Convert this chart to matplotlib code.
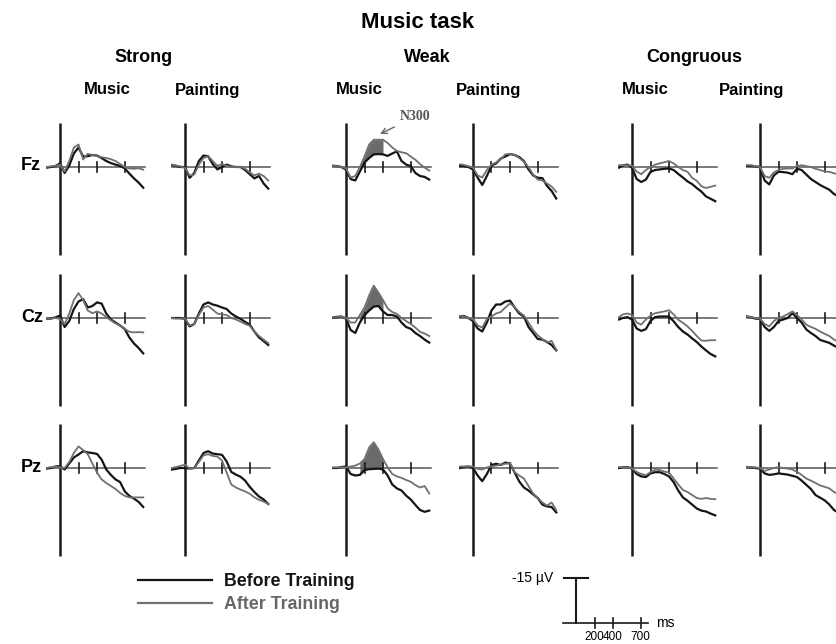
import matplotlib.pyplot as plt
import numpy as np

plt.rcParams['font.family'] = ['Liberation Sans', 'DejaVu Sans']

# time samples (ms) shared by all waveforms, amplitudes in microvolts (negative plotted up)
times = [-140, -100, -50, 0, 50, 100, 150, 200, 250, 300, 350,
         400, 450, 500, 550, 600, 650, 700, 750, 800, 850, 900]

electrodes = ['Fz', 'Cz', 'Pz']
conditions = ['Strong', 'Weak', 'Congruous']
groups = ['Music', 'Painting']

# Fz
fz_strong_music_before = [0.2, 0.0, -0.3, -1.2, 2.0, -0.5, -4.5, -6.5, -3.5, -3.6, -4.0, -3.8, -3.0, -2.0, -1.3, -0.8, -0.3, 0.4, 2.2, 3.8, 5.2, 6.9]
fz_strong_music_after = [0.0, -0.2, -0.4, -0.8, 1.5, -2.0, -6.5, -7.5, -2.5, -4.4, -4.0, -3.6, -3.3, -3.0, -2.6, -2.0, -1.0, 0.0, 0.5, 0.6, 0.4, 0.9]
fz_strong_painting_before = [-0.6, -0.4, 0.0, 0.0, 3.6, 2.0, -2.0, -3.8, -3.6, -1.0, 0.8, 0.0, -0.8, -0.2, 0.0, 0.0, 1.0, 2.4, 3.8, 3.0, 5.5, 7.2]
fz_strong_painting_after = [-0.8, -0.5, -0.2, 0.3, 2.8, 2.5, -0.8, -3.0, -3.6, -2.0, -0.4, -1.0, -0.4, 0.0, 0.0, 0.0, 0.6, 1.8, 2.8, 2.2, 3.0, 4.5]
fz_weak_music_before = [-0.4, -0.3, 0.0, 0.9, 4.0, 4.5, 1.5, -1.5, -3.0, -4.2, -4.3, -4.2, -3.7, -4.5, -5.2, -2.0, -0.8, -0.3, 2.0, 3.0, 3.3, 4.2]
fz_weak_music_after = [-0.4, -0.2, 0.0, 0.5, 3.5, 3.0, 0.0, -3.5, -7.5, -9.1, -9.1, -9.1, -8.0, -6.5, -5.4, -4.9, -4.6, -3.5, -2.4, -1.0, 0.2, 1.2]
fz_weak_painting_before = [-0.3, -0.3, 0.0, 0.8, 3.5, 6.0, 3.0, -0.5, -1.2, -2.8, -3.5, -4.3, -4.0, -3.3, -2.0, 0.8, 2.8, 3.6, 3.7, 6.3, 8.0, 10.5]
fz_weak_painting_after = [-0.9, -0.7, -0.3, 0.2, 2.8, 3.5, 1.0, -0.8, -1.5, -2.6, -4.2, -4.4, -4.0, -3.0, -1.8, 0.0, 2.5, 4.2, 4.5, 5.5, 6.5, 8.3]
fz_congruous_music_before = [0.2, -0.5, -0.8, 0.2, 4.0, 5.0, 4.2, 1.6, 1.0, 0.8, 0.6, 0.5, 1.0, 2.3, 3.5, 4.8, 5.7, 7.0, 8.2, 9.8, 10.6, 11.4]
fz_congruous_music_after = [-0.6, -0.6, -0.6, -0.4, 1.5, 2.4, 1.0, 0.0, -0.8, -1.2, -1.6, -2.0, -1.2, 0.0, 1.0, 1.6, 3.6, 4.6, 6.4, 7.0, 6.6, 6.2]
fz_congruous_painting_before = [-0.4, -0.4, -0.2, 0.0, 4.5, 5.8, 2.8, 1.6, 1.7, 1.9, 2.4, 0.6, 1.0, 2.5, 4.0, 5.0, 6.0, 6.8, 7.6, 9.0, 9.8, 10.5]
fz_congruous_painting_after = [-0.6, -0.6, -0.3, 0.0, 3.0, 3.6, 1.8, 1.0, 0.6, 0.5, 0.5, -0.3, -0.6, -0.3, 0.0, 0.6, 1.0, 1.5, 1.6, 2.1, 2.5, 3.0]

# Cz
cz_strong_music_before = [0.3, 0.2, -0.2, -0.8, 3.0, 1.0, -3.0, -5.5, -6.3, -3.5, -4.0, -5.2, -4.8, -1.5, 0.5, 1.5, 2.5, 3.7, 6.5, 8.5, 10.0, 11.8]
cz_strong_music_after = [0.3, 0.2, 0.0, 0.3, 2.0, -1.5, -6.0, -8.3, -6.0, -2.5, -1.6, -2.2, -1.5, -0.3, 0.8, 1.8, 2.5, 3.6, 4.6, 4.8, 4.7, 4.8]
cz_strong_painting_before = [0.0, 0.0, 0.0, 0.3, 2.8, 2.0, -1.5, -4.5, -5.2, -4.5, -4.1, -3.5, -3.0, -1.5, -0.5, 0.3, 1.3, 2.2, 4.5, 6.5, 7.7, 9.0]
cz_strong_painting_after = [0.0, 0.2, 0.2, 0.2, 2.5, 2.0, -1.0, -3.5, -4.0, -2.8, -1.5, -1.2, -1.0, 0.0, 0.5, 1.2, 2.0, 2.6, 4.5, 6.0, 7.2, 8.4]
cz_weak_music_before = [-0.2, -0.3, -0.5, 0.2, 4.0, 5.0, 1.5, -1.0, -2.5, -3.8, -4.0, -2.2, -1.0, -1.0, -0.5, 1.5, 3.0, 3.6, 5.0, 6.0, 7.2, 8.2]
cz_weak_music_after = [-0.3, -0.5, -0.4, 0.0, 1.5, 1.5, -1.0, -3.5, -7.5, -10.8, -8.5, -6.0, -3.2, -2.0, -1.4, 0.0, 1.0, 2.0, 3.2, 4.6, 5.2, 6.0]
cz_weak_painting_before = [-0.5, -0.7, 0.0, 1.0, 3.5, 4.5, 1.5, -2.5, -4.5, -4.5, -5.5, -5.8, -3.5, -1.5, -0.5, 3.0, 5.0, 7.0, 7.2, 8.0, 9.0, 10.8]
cz_weak_painting_after = [-0.7, -0.5, 0.0, 0.4, 2.5, 3.2, 0.3, -0.5, -1.5, -2.0, -3.5, -4.9, -3.6, -2.0, -0.8, 1.5, 4.0, 5.8, 7.0, 8.2, 7.6, 10.6]
cz_congruous_music_before = [0.5, 0.0, -0.3, 0.5, 3.5, 4.3, 3.7, 1.0, -0.3, -0.5, -0.5, -0.5, 1.1, 3.0, 4.5, 5.5, 6.8, 8.0, 9.5, 10.8, 12.0, 12.8]
cz_congruous_music_after = [-0.3, -1.2, -1.5, -1.0, 1.5, 2.2, 0.5, -0.8, -1.6, -1.9, -2.2, -2.6, -1.2, 0.6, 1.6, 2.8, 4.3, 6.0, 7.5, 7.6, 7.4, 7.4]
cz_congruous_painting_before = [-0.5, -0.3, 0.2, 0.3, 3.0, 4.3, 3.0, 1.0, 0.5, 0.0, -1.6, 0.0, 1.5, 3.8, 5.0, 6.0, 7.3, 7.8, 8.3, 9.2, 10.0, 10.8]
cz_congruous_painting_after = [-0.5, -0.3, 0.0, 0.2, 2.0, 2.8, 1.0, 0.0, -0.5, -1.3, -2.2, -1.0, 0.5, 2.2, 3.0, 3.6, 4.5, 5.3, 6.0, 7.2, 8.0, 8.8]

# Pz
pz_strong_music_before = [0.2, 0.0, -0.5, -0.6, 0.5, -1.5, -3.5, -4.5, -5.6, -5.2, -5.0, -4.7, -2.8, 0.5, 2.3, 3.8, 4.7, 7.8, 9.3, 10.2, 11.3, 13.0]
pz_strong_music_after = [0.0, -0.3, -0.4, -0.2, 0.0, -2.0, -5.0, -7.2, -6.0, -4.6, -1.5, 1.5, 3.8, 5.0, 6.0, 7.0, 8.3, 9.3, 9.8, 9.8, 9.8, 9.8]
pz_strong_painting_before = [0.5, 0.3, 0.0, 0.0, 0.2, 0.0, -2.5, -5.0, -5.6, -4.8, -4.6, -4.4, -2.2, 1.3, 2.2, 2.9, 4.2, 6.3, 8.0, 9.5, 10.5, 12.0]
pz_strong_painting_after = [0.0, -0.3, -0.7, -1.1, 0.2, 0.0, -2.0, -4.2, -4.6, -4.0, -3.8, -2.5, 1.5, 5.5, 6.5, 7.2, 7.8, 8.6, 9.8, 10.6, 11.2, 12.0]
pz_weak_music_before = [0.0, 0.0, -0.3, -0.5, 2.0, 2.5, 2.3, 0.7, 0.4, 0.3, 0.2, 0.5, 2.5, 5.5, 6.8, 7.5, 9.2, 10.5, 12.3, 14.0, 14.6, 14.2]
pz_weak_music_after = [-0.2, -0.2, -0.2, -0.2, -0.5, -0.8, -1.5, -3.0, -6.8, -8.6, -6.2, -3.0, -0.2, 2.0, 2.8, 3.3, 4.0, 4.6, 5.7, 6.5, 6.0, 8.5]
pz_weak_painting_before = [0.0, -0.3, -0.5, 0.0, 2.5, 4.4, 2.0, -1.0, -1.4, -1.0, -1.8, -1.5, 1.5, 4.5, 6.5, 7.5, 8.8, 10.0, 12.2, 12.8, 13.0, 14.8]
pz_weak_painting_after = [-0.5, -0.5, -0.5, -0.5, 0.3, 0.5, -0.2, -0.5, -0.8, -1.1, -1.4, -1.6, 1.4, 2.5, 3.5, 6.0, 8.5, 10.0, 11.5, 12.5, 11.5, 14.0]
pz_congruous_music_before = [0.0, -0.3, -0.3, 0.2, 2.0, 2.8, 3.0, 1.8, 1.4, 1.4, 2.0, 2.8, 4.7, 7.5, 9.8, 10.9, 12.2, 13.5, 14.2, 14.5, 15.2, 15.8]
pz_congruous_music_after = [-0.3, -0.3, -0.2, 0.2, 1.3, 2.0, 2.4, 1.4, 0.5, 0.7, 1.2, 1.5, 3.5, 5.5, 7.3, 8.0, 9.0, 10.0, 10.3, 10.0, 10.3, 10.4]
pz_congruous_painting_before = [-0.3, -0.2, 0.0, 0.2, 1.8, 2.3, 2.1, 1.8, 2.0, 2.2, 2.6, 3.0, 4.2, 5.6, 7.0, 9.0, 9.9, 10.8, 12.2, 14.0, 15.0, 16.0]
pz_congruous_painting_after = [-0.3, -0.3, -0.2, 0.0, 1.0, 0.5, 0.0, -0.3, 0.0, 0.2, 0.5, 1.3, 2.3, 3.5, 4.2, 5.0, 5.8, 6.3, 6.8, 8.0, 8.8, 9.5]

waves = {
    ('Fz', 0): (fz_strong_music_before, fz_strong_music_after),
    ('Fz', 1): (fz_strong_painting_before, fz_strong_painting_after),
    ('Fz', 2): (fz_weak_music_before, fz_weak_music_after),
    ('Fz', 3): (fz_weak_painting_before, fz_weak_painting_after),
    ('Fz', 4): (fz_congruous_music_before, fz_congruous_music_after),
    ('Fz', 5): (fz_congruous_painting_before, fz_congruous_painting_after),
    ('Cz', 0): (cz_strong_music_before, cz_strong_music_after),
    ('Cz', 1): (cz_strong_painting_before, cz_strong_painting_after),
    ('Cz', 2): (cz_weak_music_before, cz_weak_music_after),
    ('Cz', 3): (cz_weak_painting_before, cz_weak_painting_after),
    ('Cz', 4): (cz_congruous_music_before, cz_congruous_music_after),
    ('Cz', 5): (cz_congruous_painting_before, cz_congruous_painting_after),
    ('Pz', 0): (pz_strong_music_before, pz_strong_music_after),
    ('Pz', 1): (pz_strong_painting_before, pz_strong_painting_after),
    ('Pz', 2): (pz_weak_music_before, pz_weak_music_after),
    ('Pz', 3): (pz_weak_painting_before, pz_weak_painting_after),
    ('Pz', 4): (pz_congruous_music_before, pz_congruous_music_after),
    ('Pz', 5): (pz_congruous_painting_before, pz_congruous_painting_after),
}

tick_ms = [200, 400, 700]
n300_window = (150, 400)

# layout in pixels
W, H = 836, 644
col_x = [60, 185, 346, 473, 632, 760]      # stimulus onset line of each column
row_y = [167, 318, 468]                    # zero line of each row
PX_MS = 0.0925
PX_UV = 3.0
T0, T1 = -150, 950
V0, V1 = -16, 30

BEFORE = '#151515'
AFTER = '#707070'

fig = plt.figure(figsize=(W / 100, H / 100), dpi=100)


def panel_axes(x0, y0):
    left = x0 + T0 * PX_MS
    top = y0 + V0 * PX_UV
    w = (T1 - T0) * PX_MS
    h = (V1 - V0) * PX_UV
    ax = fig.add_axes([left / W, 1 - (top + h) / H, w / W, h / H])
    ax.set_xlim(T0, T1)
    ax.set_ylim(V1, V0)
    ax.axis('off')
    return ax


t = np.array(times)
handles = None
for r, el in enumerate(electrodes):
    for c in range(6):
        ax = panel_axes(col_x[c], row_y[r])
        before, after = waves[(el, c)]
        ax.plot([0, 0], [-14.8, 29.3], color='#1a1a1a', lw=1.8, solid_capstyle='butt')
        ax.plot([-140, 920], [0, 0], color='#555555', lw=1.1)
        for tk in tick_ms:
            ax.plot([tk, tk], [-1.7, 1.7], color='#1a1a1a', lw=1.2)
        if c == 2:
            mask = (t >= n300_window[0]) & (t <= n300_window[1])
            ax.fill_between(t, before, after, where=mask, color='#6a6a6a', lw=0)
        lb, = ax.plot(t, before, color=BEFORE, lw=1.6)
        la, = ax.plot(t, after, color=AFTER, lw=1.3)
        if handles is None:
            handles = [lb, la]
        if r == 0 and c == 2:
            ax.annotate('N300', xy=(368, -11), xytext=(746, -16.7),
                        fontsize=10, fontweight='bold', color='#555555',
                        family=['Liberation Serif', 'DejaVu Serif'],
                        ha='center', va='center', annotation_clip=False,
                        arrowprops=dict(arrowstyle='->', color='#666666', lw=1,
                                        shrinkA=2, shrinkB=0))


def fig_text(x, y, s, **kw):
    fig.text(x / W, 1 - y / H, s, ha=kw.pop('ha', 'center'), va='center', **kw)


fig_text(418, 22, 'Music task', fontsize=16, fontweight='bold')
for x, name in zip([144, 427, 694], conditions):
    fig_text(x, 58, name, fontsize=13, fontweight='bold')
for x, name in zip([107, 208, 359, 489, 645, 752], groups * 3):
    fig_text(x, 90, name, fontsize=12, fontweight='bold')
for y, el in zip(row_y, electrodes):
    fig_text(21, y - 1, el, fontsize=13, fontweight='bold', ha='left')

# legend
leg = fig.legend(handles, ['Before Training', 'After Training'],
                 loc='upper left', bbox_to_anchor=(122 / W, 1 - 557 / H),
                 frameon=False, handlelength=4.15, handletextpad=0.67,
                 labelspacing=0.34, prop={'weight': 'bold', 'size': 12.8})
for txt, col in zip(leg.get_texts(), [BEFORE, '#666666']):
    txt.set_color(col)
for ln in leg.get_lines():
    ln.set_linewidth(1.6)

# scale bar
sb = panel_axes(576, 623)
sb.plot([0, 0], [0, -15], color='#1a1a1a', lw=1.5)
sb.plot([-130, 130], [-15, -15], color='#1a1a1a', lw=1.5)
sb.plot([-140, 780], [0, 0], color='#1a1a1a', lw=1.2)
for tk in tick_ms:
    sb.plot([tk, tk], [-1.7, 1.7], color='#1a1a1a', lw=1.2)
    sb.text(tk, 4.8, str(tk), fontsize=8.5, ha='center', va='center')
sb.text(-250, -15, '-15 µV', fontsize=10, ha='right', va='center')
sb.text(860, 0, 'ms', fontsize=10, ha='left', va='center')

fig.savefig('out.png', dpi=100)
